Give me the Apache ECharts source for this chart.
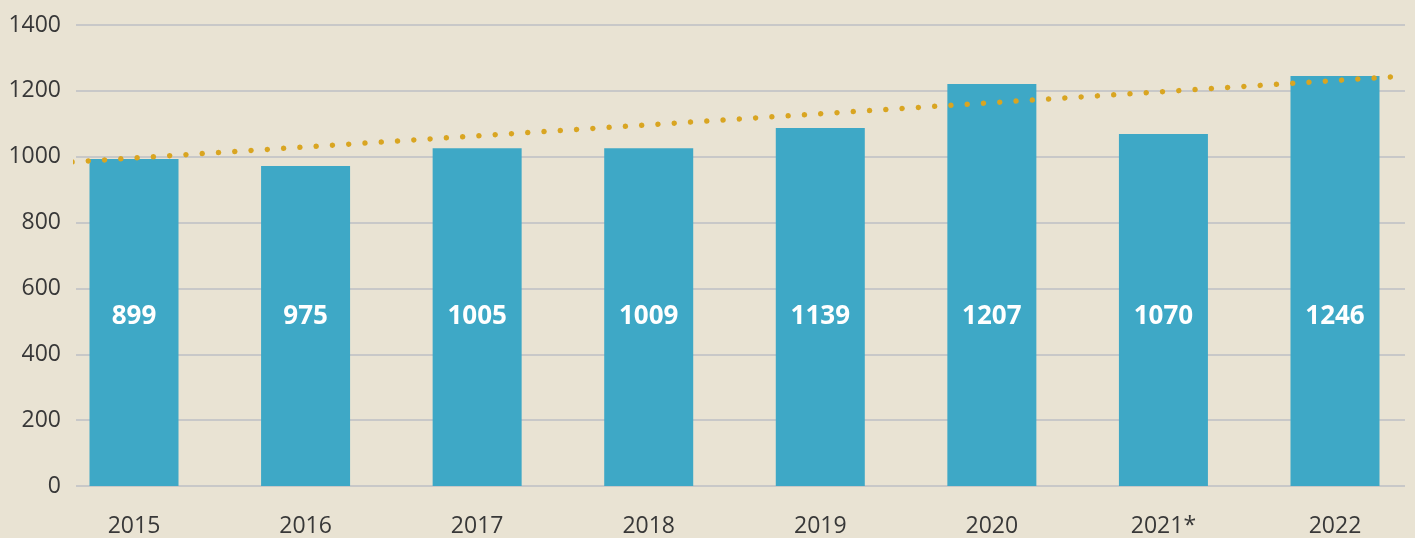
<!DOCTYPE html>
<html>
<head>
<meta charset="utf-8">
<script src="https://cdn.jsdelivr.net/npm/echarts@6/dist/echarts.min.js"></script>
<style>
  html, body { margin: 0; padding: 0; background: #e9e3d3; }
  #chart { width: 1415px; height: 538px; }
</style>
</head>
<body>
<div id="chart"></div>
<script>
// categories and values
var years = ['2015', '2016', '2017', '2018', '2019', '2020', '2021*', '2022'];
var barHeights = [993, 972, 1026, 1026, 1087, 1221, 1069, 1245];   // drawn bar height
var barLabels = [899, 975, 1005, 1009, 1139, 1207, 1070, 1246];    // printed number
var trendX = [-0.003, 1];
var trendY = [984, 1245];

var font = '"Open Sans", "Noto Sans", sans-serif';
var chart = echarts.init(document.getElementById('chart'));

var option = {
  backgroundColor: '#e9e3d3',
  animation: false,
  grid: [
    // grid 0: gridlines, y labels, trend line
    { left: 76, right: 10, top: 25, bottom: 52 },
    // grid 1: the bars, first tick at 2015 centre, last at 2022 centre
    { left: 134, width: 1201, top: 25, bottom: 52 }
  ],
  xAxis: [
    { type: 'value', gridIndex: 0, min: 0, max: 1, show: false },
    {
      type: 'category', gridIndex: 1, data: years, boundaryGap: false,
      axisLine: { show: false }, axisTick: { show: false },
      axisLabel: { color: '#383838', fontSize: 23, fontFamily: font, margin: 29 }
    }
  ],
  yAxis: [
    {
      type: 'value', gridIndex: 0, min: 0, max: 1400, interval: 200,
      axisLine: { show: false }, axisTick: { show: false },
      axisLabel: {
        color: '#383838', fontSize: 23, fontFamily: font, margin: 15,
        formatter: function (v) { return String(v); }
      },
      splitLine: { lineStyle: { color: '#c8c8c8', width: 2 } }
    },
    { type: 'value', gridIndex: 1, min: 0, max: 1400, show: false }
  ],
  series: [
    {
      type: 'bar', xAxisIndex: 1, yAxisIndex: 1,
      data: barHeights, barWidth: 89,
      itemStyle: { color: '#3ea8c6' },
      label: {
        show: true, position: 'insideBottom', distance: 156,
        color: '#ffffff', fontSize: 26, fontWeight: 'bold', fontFamily: font,
        formatter: function (p) { return barLabels[p.dataIndex]; }
      }
    },
    {
      type: 'line', xAxisIndex: 0, yAxisIndex: 0,
      data: trendX.map(function (x, i) { return [x, trendY[i]]; }),
      symbol: 'none', z: 5,
      lineStyle: { color: '#d9a521', width: 5.5, type: [0.01, 16.3], cap: 'round' }
    }
  ]
};

chart.setOption(option);
</script>
</body>
</html>
